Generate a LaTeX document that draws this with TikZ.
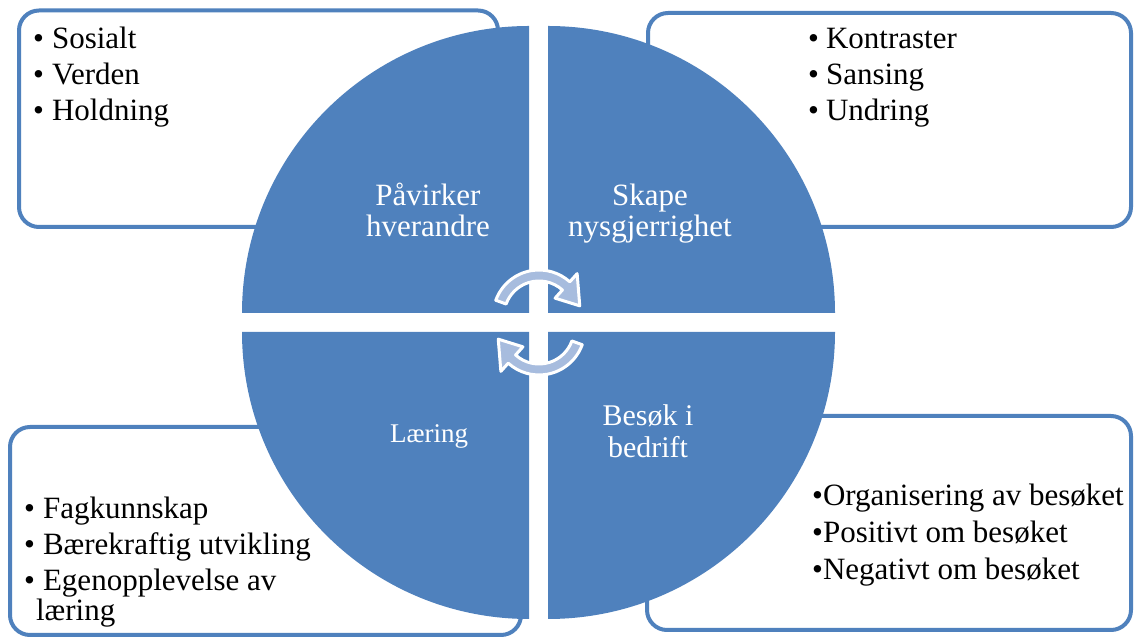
\documentclass[tikz,border=0pt]{standalone}
\usepackage{fontspec}
\setmainfont{Liberation Serif}
\usetikzlibrary{calc}
\definecolor{sablue}{RGB}{79,129,189}
\definecolor{arrowfill}{RGB}{167,188,222}
\tikzset{
  infobox/.style={draw=sablue, line width=4pt, fill=white, rounded corners=20pt},
  quadrant/.style={fill=sablue},
  listtext/.style={anchor=base west, inner sep=0pt, text=black, font=\fontsize{31}{36}\selectfont},
  quadtext/.style={anchor=base, inner sep=0pt, text=white},
  cyclearrow/.style={fill=arrowfill, draw=white, line width=3pt, line join=round},
}
\begin{document}
\begin{tikzpicture}[x=1pt,y=1pt]
\useasboundingbox (0,0) rectangle (1135,639);
% outer boxes
\draw[infobox] (19,412) rectangle (498,628.5);
\draw[infobox] (648,412) rectangle (1131,626);
\draw[infobox] (10,4) rectangle (521,212);
\draw[infobox] (647,9) rectangle (1131,223);
% quadrants
\fill[quadrant] (529,326) -- (242,326) arc[start angle=180,end angle=90,radius=287] -- cycle;
\fill[quadrant] (548,326) -- (548,613) arc[start angle=90,end angle=0,radius=287] -- cycle;
\fill[quadrant] (529,307) -- (242,307) arc[start angle=180,end angle=270,radius=287] -- cycle;
\fill[quadrant] (548,307) -- (835,307) arc[start angle=0,end angle=-90,radius=287] -- cycle;
% quadrant labels
\node[quadtext, font=\fontsize{31}{30}\selectfont] (q1) at (428,433)
  {\begin{tabular}[t]{@{}c@{}}Påvirker\\hverandre\end{tabular}};
\node[quadtext, font=\fontsize{31}{30}\selectfont] (q2) at (650,433)
  {\begin{tabular}[t]{@{}c@{}}Skape\\nysgjerrighet\end{tabular}};
\node[quadtext, font=\fontsize{27}{30}\selectfont] (q3) at (429,196) {Læring};
\node[quadtext, font=\fontsize{30}{32}\selectfont] (q4) at (648,213)
  {\begin{tabular}[t]{@{}c@{}}Besøk i\\bedrift\end{tabular}};
% list texts
\node[listtext] (l1) at (33,590)
  {\begin{tabular}[t]{@{}l@{\hspace{8pt}}l@{}}•&Sosialt\\•&Verden\\•&Holdning\end{tabular}};
\node[listtext] (l2) at (808,590)
  {\begin{tabular}[t]{@{}l@{\hspace{7pt}}l@{}}•&Kontraster\\•&Sansing\\•&Undring\end{tabular}};
\node[listtext] (l3) at (24,120)
  {\begin{tabular}[t]{@{}l@{\hspace{8pt}}l@{}}•&Fagkunnskap\\•&Bærekraftig utvikling\\•&Egenopplevelse av\\[-6pt]&\hspace{-7pt}læring\end{tabular}};
\node[listtext] (l4) at (812,133)
  {\begin{tabular}[t]{@{}l@{}l@{}}•&Organisering av besøket\\[1pt]•&Positivt om besøket\\[1pt]•&Negativt om besøket\end{tabular}};
% cycle arrows
\coordinate (U) at (539,323);
\coordinate (L) at (539,310);
\filldraw[cyclearrow] ($(U)+(160:46)$) arc[start angle=160,end angle=48,radius=46]
  -- ($(U)+(48:57)$) -- ($(U)+(14:42)$) -- ($(U)+(48:24)$) -- ($(U)+(48:35)$)
  arc[start angle=48,end angle=160,radius=35] -- cycle;
\filldraw[cyclearrow] ($(L)+(-20:46)$) arc[start angle=-20,end angle=-132,radius=46]
  -- ($(L)+(-132:57)$) -- ($(L)+(-166:42)$) -- ($(L)+(-132:24)$) -- ($(L)+(-132:35)$)
  arc[start angle=-132,end angle=-20,radius=35] -- cycle;
\end{tikzpicture}
\end{document}
